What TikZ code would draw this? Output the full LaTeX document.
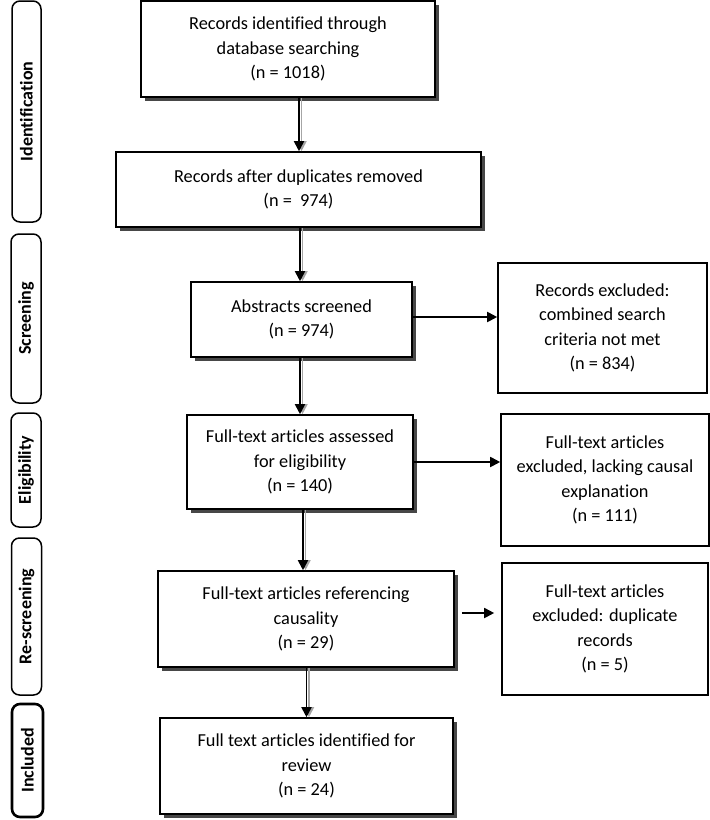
\documentclass[tikz,border=0pt]{standalone}
\usepackage{fontspec}
\setmainfont{Carlito}[Ligatures=NoCommon]
\usetikzlibrary{arrows.meta,shadows,calc}
\begin{document}
\begin{tikzpicture}[x=1pt,y=-1pt,
  mainbox/.style={draw, line width=1.6pt, fill=white, align=center, inner sep=0pt,
    font=\fontsize{18.3}{24.5}\selectfont,
    drop shadow={shadow xshift=3.5pt, shadow yshift=-3.5pt, fill=black!72, opacity=1}},
  sidebox/.style={draw, line width=1.6pt, fill=white, align=center, inner sep=0pt,
    font=\fontsize{18.3}{24.5}\selectfont},
  stagebox/.style={draw, line width=1.5pt, rounded corners=8pt, inner sep=0pt,
    font=\bfseries\fontsize{18}{22}\selectfont},
  arr/.style={line width=1.8pt, -{Triangle[length=10pt,width=10pt]}},
  arrshadow/.style={line width=1.8pt, black!35, -{Triangle[length=10pt,width=10pt]}},
]
\useasboundingbox (0,0) rectangle (710,820);

% stage labels
\node[stagebox, minimum width=29pt, minimum height=221pt] (s1) at (26.5,111.5) {\rotatebox{90}{Identification}};
\node[stagebox, minimum width=30pt, minimum height=169pt] (s2) at (26,318.5) {\rotatebox{90}{Screening}};
\node[stagebox, minimum width=30pt, minimum height=114pt] (s3) at (26,470) {\rotatebox{90}{Eligibility}};
\node[stagebox, minimum width=30pt, minimum height=157pt] (s4) at (26.5,616.5) {\rotatebox{90}{Re-screening}};
\node[stagebox, line width=2.6pt, minimum width=31pt, minimum height=113pt] (s5) at (27.5,760.5) {\rotatebox{90}{Included}};

% main boxes
\node[mainbox, minimum width=294pt, minimum height=96pt] (b1) at (288,49) {Records identified through\\database searching\\(n = 1018)};
\node[mainbox, minimum width=365pt, minimum height=75pt] (b2) at (298.5,189.5) {Records after duplicates removed\\(n =~ 974)};
\node[mainbox, minimum width=221pt, minimum height=75pt] (b3) at (301.5,319.5) {Abstracts screened\\(n = 974)};
\node[mainbox, minimum width=226pt, minimum height=94pt] (b4) at (300,462) {Full-text articles assessed\\for eligibility\\(n = 140)};
\node[mainbox, minimum width=296pt, minimum height=96pt] (b5) at (306,619) {Full-text articles referencing\\causality\\(n = 29)};
\node[mainbox, minimum width=293pt, minimum height=96pt] (b6) at (306.5,766) {Full text articles identified for\\review\\(n = 24)};

% exclusion boxes
\node[sidebox, minimum width=209pt, minimum height=130pt] (r1) at (602.5,328) {Records excluded:\\combined search\\criteria not met\\(n = 834)};
\node[sidebox, minimum width=208pt, minimum height=132pt] (r2) at (605,480) {Full-text articles\\excluded, lacking causal\\explanation\\(n = 111)};
\node[sidebox, minimum width=206pt, minimum height=132pt] (r3) at (605,629) {Full-text articles\\excluded: duplicate\\records\\(n = 5)};

% vertical arrows (with light shadow)
\draw[arrshadow] ([xshift=13.5pt]b1.south) -- ([xshift=13.5pt]b1.south |- b2.north);
\draw[arr] ([xshift=11pt]b1.south) -- ([xshift=11pt]b1.south |- b2.north);
\draw[arrshadow] ([xshift=1pt]b3.north |- b2.south) -- ([xshift=1pt]b3.north);
\draw[arr] ([xshift=-1.5pt]b3.north |- b2.south) -- ([xshift=-1.5pt]b3.north);
\draw[arrshadow] ([xshift=2.5pt]b4.north |- b3.south) -- ([xshift=2.5pt]b4.north);
\draw[arr] (b4.north |- b3.south) -- (b4.north);
\draw[arrshadow] ([xshift=-0.5pt]b5.north |- b4.south) -- ([xshift=-0.5pt]b5.north);
\draw[arr] ([xshift=-3pt]b5.north |- b4.south) -- ([xshift=-3pt]b5.north);
\draw[arrshadow] ([xshift=2.5pt]b6.north |- b5.south) -- ([xshift=2.5pt]b6.north);
\draw[arr] (b6.north |- b5.south) -- (b6.north);

% horizontal arrows
\draw[arr] ([yshift=2.5pt]b3.east) -- ([yshift=2.5pt]b3.east -| r1.west);
\draw[arr] (b4.east) -- (b4.east -| r2.west);
\draw[arr, shorten <=7pt, shorten >=7pt] ([yshift=6pt]b5.east) -- ([yshift=6pt]b5.east -| r3.west);
\end{tikzpicture}
\end{document}
